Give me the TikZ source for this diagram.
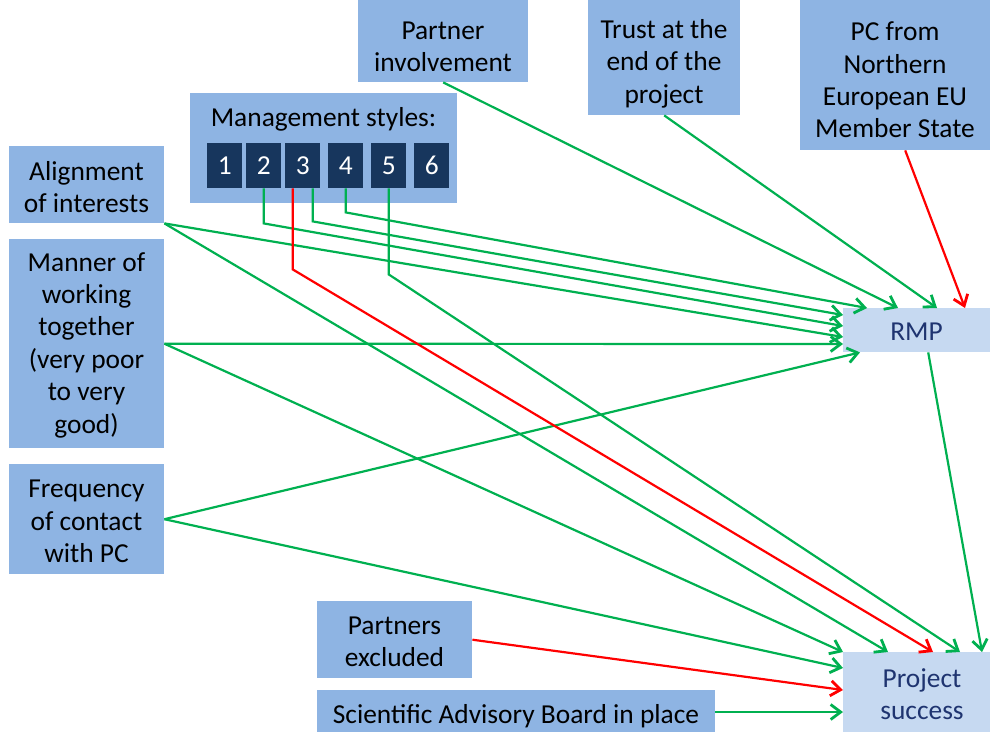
\documentclass[tikz,border=0pt]{standalone}
\usepackage{fontspec}
\setmainfont{Carlito}
\usetikzlibrary{arrows.meta,calc}
\definecolor{boxblue}{HTML}{8EB4E3}
\definecolor{darkbox}{HTML}{17365D}
\definecolor{lightbox}{HTML}{C6D9F1}
\definecolor{navytext}{HTML}{1F3470}
\definecolor{posgreen}{HTML}{00B050}
\definecolor{negred}{HTML}{FF0000}
\begin{document}
\begin{tikzpicture}[x=1pt,y=-1pt,
  box/.style={fill=boxblue, inner sep=0pt, anchor=north west},
  outcome/.style={box, fill=lightbox},
  boxtext/.style={inner sep=0pt, align=center, font=\fontsize{27.4}{32.4}\selectfont},
  outtext/.style={boxtext, text=navytext},
  stylebox/.style={fill=darkbox, text=white, inner sep=0pt, anchor=north west,
    minimum width=35pt, minimum height=45pt, font=\fontsize{27.4}{30}\selectfont},
  link/.style={line width=2.2pt, -{Straight Barb[length=10pt,width=15pt,line width=2.8pt]}},
  posline/.style={link, draw=posgreen},
  negline/.style={link, draw=negred}]
\useasboundingbox (0,0) rectangle (990,731);
\clip (0,0) rectangle (990,731);

% factor boxes
\node[box, minimum width=170pt, minimum height=94pt] (partner) at (358,-12) {};
\node[boxtext] (partnerlbl) at (443,47) {Partner\\involvement};
\node[box, minimum width=152pt, minimum height=127pt] (trust) at (588,-12) {};
\node[boxtext] (trustlbl) at (664,63.5) {Trust at the\\end of the\\project};
\node[box, minimum width=200pt, minimum height=160pt] (pc) at (800,-10) {};
\node[boxtext] (pclbl) at (895,80) {PC from\\Northern\\European EU\\Member State};

\node[box, minimum width=267pt, minimum height=110pt] (mgmt) at (190,93) {};
\node[boxtext] (mtitle) at (323.5,119) {Management styles:};
\node[stylebox] (m1) at (207,143) {1};
\node[stylebox] (m2) at (246,143) {2};
\node[stylebox] (m3) at (285,143) {3};
\node[stylebox] (m4) at (328,143) {4};
\node[stylebox] (m5) at (371,143) {5};
\node[stylebox] (m6) at (414,143) {6};

\node[box, minimum width=155pt, minimum height=77pt] (align) at (9,146) {};
\node[boxtext] (alignlbl) at (86.5,187) {Alignment\\of interests};
\node[box, minimum width=155pt, minimum height=209pt] (manner) at (9,239) {};
\node[boxtext] (mannerlbl) at (86.5,345) {Manner of\\working\\together\\(very poor\\to very\\good)};
\node[box, minimum width=155pt, minimum height=110pt] (freq) at (9,464) {};
\node[boxtext] (freqlbl) at (86.5,521.5) {Frequency\\of contact\\with PC};
\node[box, minimum width=155pt, minimum height=77pt] (excl) at (317,601) {};
\node[boxtext] (excllbl) at (394.5,642) {Partners\\excluded};
\node[box, minimum width=398pt, minimum height=52pt] (sab) at (317,690) {};
\node[boxtext] (sablbl) at (516,716.5) {Scientific Advisory Board in place};

% outcome boxes
\node[outcome, minimum width=160pt, minimum height=44pt] (rmp) at (843,308) {};
\node[outtext] (rmplbl) at (916.5,332) {RMP};
\node[outcome, minimum width=160pt, minimum height=82pt] (ps) at (843,652) {};
\node[outtext] (pslbl) at (922,694) {Project\\success};

% links into RMP
\draw[posline] (partner.south) -- ($(rmp.north west)+(55,0)$);
\draw[posline] (trust.south) -- ($(rmp.north west)+(94,0)$);
\draw[negline] ($(pc.south)+(5,0)$) -- ($(rmp.north west)+(122,0)$);
\draw[posline] (m4.south) -- ++(0,24) -- ($(rmp.north west)+(24,0)$);
\draw[posline] ($(m3.south)+(10,0)$) -- ++(0,33) -- ($(rmp.north west)+(0,7)$);
\draw[posline] (m2.south) -- ++(0,35) -- ($(rmp.north west)+(0,18)$);
\draw[posline] (align.south east) -- ($(rmp.north west)+(0,29)$);
\draw[posline] (manner.east) -- ($(rmp.north west)+(0,36)$);
\draw[posline] (freq.east) -- ($(rmp.south west)+(17,0)$);

% links into project success
\draw[posline] (manner.east) -- (ps.north west);
\draw[posline] (align.south east) -- ($(ps.north west)+(45,0)$);
\draw[negline] ($(m3.south)+(-10,0)$) -- ++(0,81) -- ($(ps.north west)+(90,0)$);
\draw[posline] (m5.south) -- ++(0,86) -- ($(ps.north west)+(117,0)$);
\draw[posline] ($(rmp.south)+(5,0)$) -- ($(ps.north west)+(139,0)$);
\draw[posline] (freq.east) -- ($(ps.north west)+(0,16)$);
\draw[negline] (excl.east) -- ($(ps.north west)+(0,38)$);
\draw[posline] (sab.east |- 0,712) -- ($(ps.north west)+(0,60)$);
\end{tikzpicture}
\end{document}
